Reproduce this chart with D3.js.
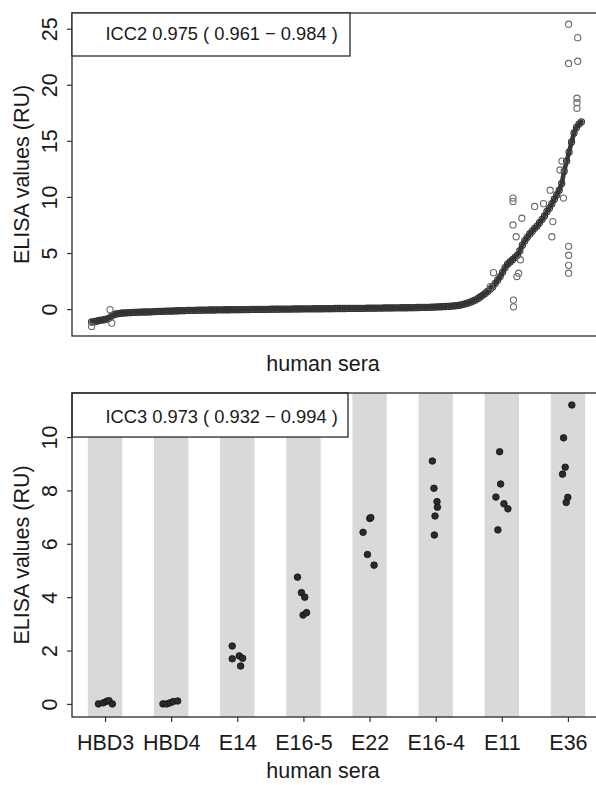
<!DOCTYPE html>
<html><head><meta charset="utf-8">
<script src="https://cdn.jsdelivr.net/npm/d3@7"></script>
<style>
html,body{margin:0;padding:0;background:#fff;}
svg{display:block;font-family:"Liberation Sans",Arial,sans-serif;}
</style></head>
<body><svg id="c" width="596" height="785"></svg>
<script>
// ---------- top panel data (sorted sera, mean ELISA values) ----------
const topValues = [
-1.15,-1.12,-1.08,-1.02,-0.98,-0.95,-0.9,-0.82,-0.65,-0.5,
-0.44,-0.4,-0.37,-0.35,-0.33,-0.32,-0.31,-0.3,-0.29,-0.28,
-0.27,-0.26,-0.26,-0.25,-0.24,-0.23,-0.22,-0.21,-0.2,-0.2,
-0.19,-0.18,-0.18,-0.17,-0.16,-0.15,-0.14,-0.14,-0.13,-0.12,
-0.12,-0.11,-0.11,-0.1,-0.1,-0.1,-0.09,-0.09,-0.08,-0.08,
-0.08,-0.07,-0.07,-0.07,-0.06,-0.06,-0.06,-0.05,-0.05,-0.05,
-0.05,-0.04,-0.04,-0.04,-0.04,-0.03,-0.03,-0.03,-0.03,-0.02,
-0.02,-0.02,-0.02,-0.01,-0.01,-0.01,-0.01,0,0,0,
0,0,0.01,0.01,0.01,0.01,0.02,0.02,0.02,0.02,
0.03,0.03,0.03,0.03,0.03,0.04,0.04,0.04,0.04,0.05,
0.05,0.05,0.05,0.05,0.06,0.06,0.06,0.06,0.07,0.07,
0.07,0.07,0.08,0.08,0.08,0.08,0.09,0.09,0.09,0.1,
0.1,0.1,0.1,0.11,0.11,0.11,0.12,0.12,0.12,0.13,
0.13,0.13,0.14,0.14,0.15,0.15,0.16,0.16,0.17,0.18,
0.19,0.2,0.21,0.22,0.23,0.24,0.26,0.28,0.3,0.33,
0.37,0.42,0.48,0.55,0.63,0.72,0.82,0.95,1.1,1.25,
1.42,1.6,1.8,2.0,2.3,2.6,2.9,3.3,3.7,4.0,
4.2,4.4,4.6,4.8,5.2,5.7,6.1,6.4,6.7,6.95,
7.2,7.4,7.7,8.0,8.3,8.7,9.0,9.4,9.8,10.2,
10.6,11.2,12.3,13.2,14.0,14.9,15.7,16.2,16.5,16.7];
const outIdx = [172.2,172.2,172.2,175.8,181,184.6,188,188.4,194.8,194.8,194.8,194.8,164.3,174.5,173.8,172.4,172.4,173.5,187.3,192.1,192.7,191.3,163,175.2,194.8,198.5,194.8,198.5,198.2,198.2,198.2,8.5,9.2,1];
const outVal = [9.9,9.6,7.5,8.1,9.15,9.4,6.45,7.8,5.6,4.8,3.9,3.2,3.25,3.2,2.9,0.8,0.2,6.45,10.6,13.2,9.9,12.4,2.0,4.4,25.4,24.2,21.9,22.1,18.8,18.4,17.9,-0.05,-1.25,-1.55];
const topTicks = [0,5,10,15,20,25];
const topLegend = "ICC2 0.975 ( 0.961 \u2212 0.984 )";

// ---------- bottom panel data ----------
const categories = ["HBD3","HBD4","E14","E16-5","E22","E16-4","E11","E36"];
const groupValues = [
  [0,0.04,0.1,0.12,0],
  [0,0,0.04,0.09,0.11],
  [2.17,1.69,1.80,1.71,1.42],
  [4.75,4.17,4.0,3.33,3.42],
  [6.95,6.98,6.43,5.6,5.2],
  [9.1,8.08,7.58,7.37,7.04,6.33],
  [9.45,8.24,7.75,7.5,7.31,6.52],
  [11.2,9.97,8.87,8.61,7.74,7.55]
];
const groupJitter = [
  [-0.10,-0.026,0.026,0.06,0.11],
  [-0.124,-0.068,-0.018,0.032,0.098],
  [-0.077,-0.077,0.029,0.08,0.05],
  [-0.09,-0.03,0.02,-0.005,0.047],
  [0.003,0.018,-0.098,-0.032,0.068],
  [-0.05,-0.026,0.02,0.026,-0.01,-0.02],
  [-0.033,-0.018,-0.089,0.032,0.092,-0.059],
  [0.059,-0.066,-0.041,-0.082,-0.002,-0.026]
];
const bottomTicks = [0,2,4,6,8,10];
const bottomLegend = "ICC3 0.973 ( 0.932 \u2212 0.994 )";

const yTitle = "ELISA values (RU)";
const xTitle = "human sera";

// ---------- drawing ----------
const svg = d3.select("#c");
const FONT = 21.5;
const ink = "#1a1a1a";
const L = 72, R = 601;

function frame(g, top, bottom){
  g.append("rect").attr("x",L).attr("y",top).attr("width",R-L).attr("height",bottom-top)
   .attr("fill","none").attr("stroke","#2a2a2a").attr("stroke-width",1.3);
}
function yAxis(g, y, ticks){
  const ax = d3.axisLeft(y).tickValues(ticks).tickSize(5).tickPadding(0).tickFormat(d3.format("d"));
  const a = g.append("g").attr("transform",`translate(${L},0)`).call(ax);
  a.select(".domain").remove();
  a.selectAll(".tick line").attr("stroke","#333").attr("stroke-width",1.2);
  a.selectAll(".tick text").attr("x",0).attr("dy",0)
    .attr("transform","translate(-15,0) rotate(-90)")
    .attr("text-anchor","middle").attr("font-size",FONT).attr("fill",ink)
    .attr("font-family","Liberation Sans, Arial, sans-serif");
}
function yLabel(g, cy){
  g.append("text").attr("transform",`translate(28.5,${cy}) rotate(-90)`)
   .attr("text-anchor","middle").attr("font-size",FONT).attr("fill",ink).text(yTitle);
}
function legend(g, top, bottom, right, baseline, txt){
  g.append("rect").attr("x",L).attr("y",top).attr("width",right-L).attr("height",bottom-top)
   .attr("fill","#fff").attr("stroke","#2a2a2a").attr("stroke-width",1.3);
  g.append("text").attr("x",105.5).attr("y",baseline).attr("font-size",18.3)
   .attr("fill",ink).text(txt);
}

// ----- top panel -----
const T0 = 13, T1 = 336;
const gt = svg.append("g");
const nTop = topValues.length;
const pad = 0.04*(nTop-1);
const xt = d3.scaleLinear().domain([1-pad, nTop+pad]).range([L,R]);
const yt = d3.scaleLinear().domain([-2.4, 26.4]).range([T1,T0]);

const topData = topValues.map((v,i)=>({i:i+1,v}));
gt.append("path").datum(topData)
  .attr("d", d3.line().x(d=>xt(d.i)).y(d=>yt(d.v)))
  .attr("fill","none").attr("stroke","#3a3a3a").attr("stroke-width",4.6)
  .attr("stroke-linejoin","round").attr("stroke-linecap","round");
gt.selectAll("circle.main").data(topData).join("circle").attr("class","main")
  .attr("cx",d=>xt(d.i)).attr("cy",d=>yt(d.v)).attr("r",3.1)
  .attr("fill","none").attr("stroke","#333").attr("stroke-width",1.1);
gt.selectAll("circle.out").data(outIdx.map((d,k)=>({i:d,v:outVal[k]}))).join("circle").attr("class","out")
  .attr("cx",d=>xt(d.i)).attr("cy",d=>yt(d.v)).attr("r",3.1)
  .attr("fill","none").attr("stroke","#6a6a6a").attr("stroke-width",1.1);

frame(gt, T0, T1);
yAxis(gt, yt, topTicks);
yLabel(gt, (T0+T1)/2);
legend(gt, T0, 56, 350, 39.5, topLegend);
gt.append("text").attr("x",323).attr("y",371).attr("text-anchor","middle")
  .attr("font-size",FONT).attr("fill",ink).text(xTitle);

// ----- bottom panel -----
const B0 = 393, B1 = 717;
const gb = svg.append("g");
const xb = d3.scaleLinear().domain([-0.5, categories.length-0.5]).range([L,R]);
const yb = d3.scaleLinear().domain([-0.49, 11.65]).range([B1,B0]);
const bandW = xb(0.26)-xb(0);

gb.selectAll("rect.band").data(categories).join("rect").attr("class","band")
  .attr("x",(d,i)=>xb(i)-bandW).attr("y",B0).attr("width",bandW*2).attr("height",B1-B0)
  .attr("fill","#d9d9d9");

legend(gb, B0, yb(10), 348, 422.7, bottomLegend);

const pts = [];
groupValues.forEach((arr,gi)=>arr.forEach((v,k)=>pts.push({g:gi,v,j:groupJitter[gi][k]})));
gb.selectAll("circle.pt").data(pts).join("circle").attr("class","pt")
  .attr("cx",d=>xb(d.g+d.j)).attr("cy",d=>yb(d.v)).attr("r",3.3)
  .attr("fill","#2b2b2b").attr("stroke","#111").attr("stroke-width",0.8);

frame(gb, B0, B1);
yAxis(gb, yb, bottomTicks);
yLabel(gb, (B0+B1)/2);

const axb = d3.axisBottom(xb).tickValues(d3.range(categories.length))
  .tickFormat(i=>categories[i]).tickSize(5).tickPadding(5);
const ab = gb.append("g").attr("transform",`translate(0,${B1})`).call(axb);
ab.select(".domain").remove();
ab.selectAll(".tick line").attr("stroke","#333").attr("stroke-width",1.2);
ab.selectAll(".tick text").attr("font-size",FONT).attr("fill",ink)
  .attr("font-family","Liberation Sans, Arial, sans-serif").attr("dy",0).attr("y",33);

gb.append("text").attr("x",323).attr("y",778).attr("text-anchor","middle")
  .attr("font-size",FONT).attr("fill",ink).text(xTitle);
</script></body></html>
